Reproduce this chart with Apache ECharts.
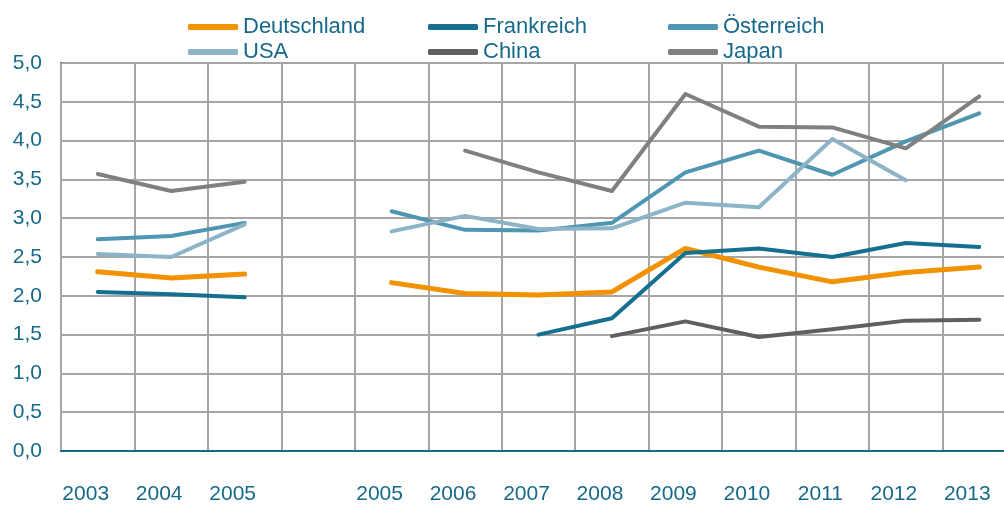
<!DOCTYPE html>
<html>
<head>
<meta charset="utf-8">
<script src="https://cdn.jsdelivr.net/npm/echarts@6/dist/echarts.min.js"></script>
<style>
  html, body { margin: 0; padding: 0; background: #fff; overflow: hidden; }
  /* plot runs past the right edge of the window, as in the original */
  #chart { width: 1016px; height: 505px; }
</style>
</head>
<body>
<div id="chart"></div>
<script>
// x categories: two blocks, separated by one empty slot
const categories = ['2003', '2004', '2005', '', '2005', '2006', '2007', '2008', '2009', '2010', '2011', '2012', '2013']

const deutschland = [2.31, 2.23, 2.28, null, 2.17, 2.03, 2.01, 2.05, 2.61, 2.37, 2.18, 2.30, 2.37]
const frankreich = [2.05, 2.02, 1.98, null, null, null, 1.50, 1.71, 2.55, 2.61, 2.50, 2.68, 2.63]
const oesterreich = [2.73, 2.77, 2.94, null, 3.09, 2.85, 2.84, 2.94, 3.59, 3.87, 3.56, 3.99, 4.35]
const usa = [2.54, 2.50, 2.92, null, 2.83, 3.03, 2.86, 2.87, 3.20, 3.14, 4.02, 3.49, null]
const china = [null, null, null, null, null, null, null, 1.48, 1.67, 1.47, 1.57, 1.68, 1.69]
const japan = [3.57, 3.35, 3.47, null, null, 3.87, 3.59, 3.35, 4.60, 4.18, 4.17, 3.90, 4.57]

const textColor = '#17698a'
const gridColor = '#a6a6a6'
const fontFamily = '"Liberation Sans", Arial, sans-serif'

function line(name, data, color, width) {
  return {
    name: name,
    type: 'line',
    data: data,
    symbol: 'none',
    connectNulls: false,
    color: color,
    lineStyle: { color: color, width: width, cap: 'round', join: 'round' }
  }
}

function legendCol(left, names) {
  return {
    orient: 'vertical',
    left: left,
    top: 11,
    itemWidth: 50,
    itemHeight: 6,
    itemGap: 3,
    icon: 'roundRect',
    data: names,
    textStyle: { color: textColor, fontSize: 22, fontFamily: fontFamily }
  }
}

const chart = echarts.init(document.getElementById('chart'))
chart.setOption({
  animation: false,
  backgroundColor: '#fff',
  legend: [
    legendCol(183, ['Deutschland', 'USA']),
    legendCol(423, ['Frankreich', 'China']),
    legendCol(663, ['Österreich', 'Japan'])
  ],
  grid: { left: 61, top: 63, right: 0, height: 388, containLabel: false },
  xAxis: {
    type: 'category',
    data: categories,
    boundaryGap: true,
    axisLine: { show: true, lineStyle: { color: textColor, width: 2 } },
    axisTick: { show: false },
    axisLabel: {
      interval: 0,
      margin: 33,
      color: textColor,
      fontSize: 21,
      fontFamily: fontFamily,
      padding: [0, 24, 0, 0]
    },
    splitLine: { show: true, interval: 0, lineStyle: { color: gridColor, width: 2 } },
    z: 3
  },
  yAxis: {
    type: 'value',
    min: 0,
    max: 5,
    interval: 0.5,
    axisLine: { show: true, lineStyle: { color: textColor, width: 2 } },
    axisTick: { show: false },
    axisLabel: {
      margin: 19,
      color: textColor,
      fontSize: 21,
      fontFamily: fontFamily,
      formatter: v => v.toFixed(1).replace('.', ',')
    },
    splitLine: { show: true, lineStyle: { color: gridColor, width: 2 } }
  },
  series: [
    line('Deutschland', deutschland, '#f39200', 5),
    line('Frankreich', frankreich, '#156f8e', 4),
    line('Österreich', oesterreich, '#4e96b2', 4),
    line('USA', usa, '#8db3c7', 4),
    line('China', china, '#5f5f5f', 4),
    line('Japan', japan, '#808080', 4)
  ]
})
</script>
</body>
</html>
